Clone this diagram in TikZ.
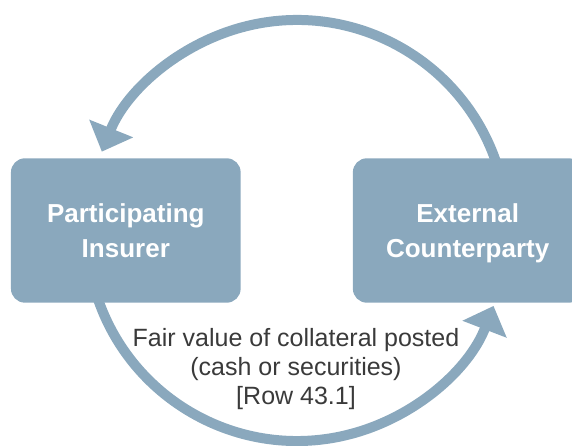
\documentclass[tikz,border=0pt]{standalone}
\usepackage{fontspec}
\setmainfont{Liberation Sans}
\usetikzlibrary{arrows.meta,calc}
\definecolor{steel}{RGB}{138,168,189}
\definecolor{labelgray}{RGB}{58,58,58}
\begin{document}
\begin{tikzpicture}[x=1pt,y=1pt,
  party/.style={fill=steel, draw=none, rounded corners=14pt,
    minimum width=229.7pt, minimum height=144.4pt, inner sep=0pt,
    align=center, text=white, font=\fontsize{26}{34.7}\selectfont\bfseries,
    text height=53.3pt, text depth=0pt},
  flow/.style={draw=steel, line width=10pt, -{Triangle[length=25pt,width=46pt]}},
  note/.style={align=center, text=labelgray, font=\fontsize{25}{29}\selectfont, inner sep=0pt}]
\useasboundingbox (0,0) rectangle (572,446);
\coordinate (ctr) at (297,215.5);
\draw[flow] ($(ctr)+(15:210.5)$) arc[start angle=15, end angle=158, radius=210.5];
\draw[flow] ($(ctr)+(195:210.5)$) arc[start angle=195, end angle=339, radius=210.5];
\node[party] (ins) at (125.8,215.5) {Participating\\Insurer};
\node[party] (ext) at (467.7,215.5) {External\\Counterparty};
\node[note] (lbl) at (296,77.4) {Fair value of collateral posted\\(cash or securities)\\{[Row 43.1]}};
\end{tikzpicture}
\end{document}
